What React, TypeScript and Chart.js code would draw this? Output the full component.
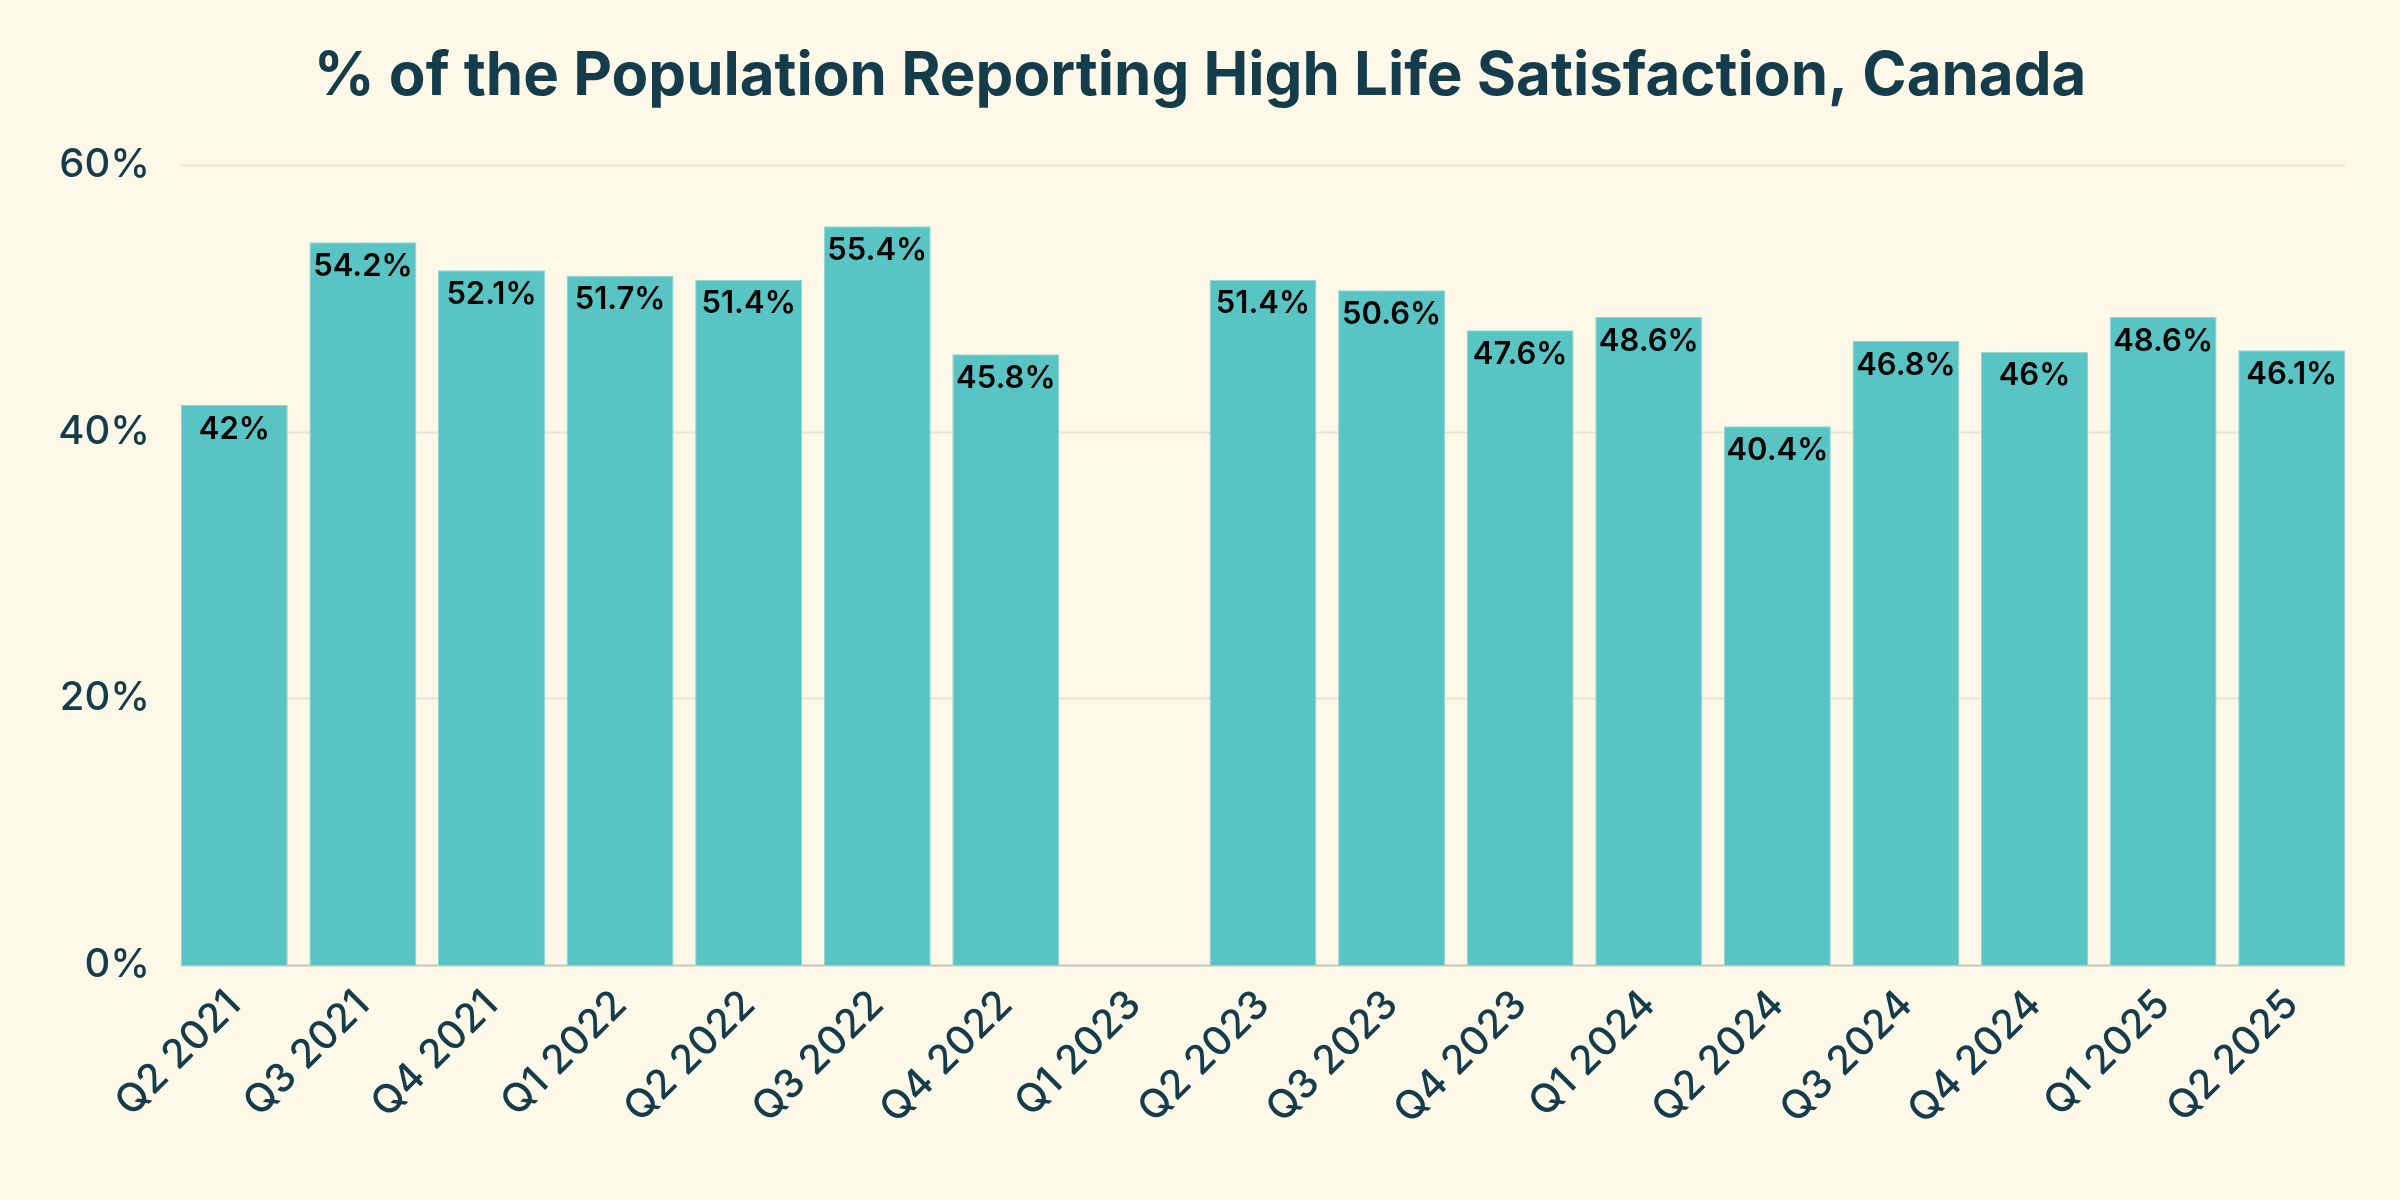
import { useEffect, useRef } from "react";
import { Chart, registerables } from "chart.js";
import type { Plugin } from "chart.js";

Chart.register(...registerables);

const quarters = [
  "Q2 2021",
  "Q3 2021",
  "Q4 2021",
  "Q1 2022",
  "Q2 2022",
  "Q3 2022",
  "Q4 2022",
  "Q1 2023",
  "Q2 2023",
  "Q3 2023",
  "Q4 2023",
  "Q1 2024",
  "Q2 2024",
  "Q3 2024",
  "Q4 2024",
  "Q1 2025",
  "Q2 2025",
];

const satisfaction: (number | null)[] = [
  42, 54.2, 52.1, 51.7, 51.4, 55.4, 45.8, null, 51.4, 50.6, 47.6, 48.6, 40.4,
  46.8, 46, 48.6, 46.1,
];

const yTicks = [0, 20, 40, 60];

const BG = "#fef8e9";
const BAR = "#58c4c4";
const INK = "#143c4a";
const FONT = "Inter, 'Noto Sans', sans-serif";

const bgPlugin: Plugin<"bar"> = {
  id: "bg",
  beforeDraw(chart) {
    const { ctx, width, height } = chart;
    ctx.save();
    ctx.fillStyle = BG;
    ctx.fillRect(0, 0, width, height);
    ctx.restore();
  },
};

// horizontal grid lines that run from the first bar's left edge to the last bar's right edge
const barGrid: Plugin<"bar"> = {
  id: "barGrid",
  beforeDatasetsDraw(chart) {
    const { ctx } = chart;
    const bars = chart.getDatasetMeta(0).data;
    if (!bars.length) return;
    const first = bars[0].getProps(["x", "width"], true) as any;
    const last = bars[bars.length - 1].getProps(["x", "width"], true) as any;
    const x1 = first.x - first.width / 2;
    const x2 = last.x + last.width / 2;
    const y = chart.scales.y;
    ctx.save();
    yTicks.forEach((t) => {
      const py = Math.round(y.getPixelForValue(t)) + 0.5;
      ctx.strokeStyle = t === 0 ? "#c4c4bc" : "#e8e4d4";
      ctx.lineWidth = 2;
      ctx.beginPath();
      ctx.moveTo(x1, py);
      ctx.lineTo(x2, py);
      ctx.stroke();
    });
    ctx.restore();
  },
};

const valueLabels: Plugin<"bar"> = {
  id: "valueLabels",
  afterDatasetsDraw(chart) {
    const { ctx } = chart;
    const meta = chart.getDatasetMeta(0);
    ctx.save();
    ctx.font = `600 31px ${FONT}`;
    ctx.fillStyle = "#000000";
    ctx.textAlign = "center";
    ctx.textBaseline = "top";
    meta.data.forEach((bar, i) => {
      const v = satisfaction[i];
      if (v === null) return;
      ctx.fillText(`${v}%`, bar.x, bar.y + 9);
    });
    ctx.restore();
  },
};

export default function App() {
  const canvasRef = useRef<HTMLCanvasElement>(null);
  const chartRef = useRef<Chart | null>(null);

  useEffect(() => {
    document.body.style.margin = "0";
    document.body.style.background = BG;
    if (!canvasRef.current) return;
    if (chartRef.current) chartRef.current.destroy();

    chartRef.current = new Chart(canvasRef.current, {
      type: "bar",
      data: {
        labels: quarters,
        datasets: [
          {
            label: "High life satisfaction",
            data: satisfaction,
            backgroundColor: BAR,
            borderColor: "#8fd6d2",
            borderWidth: 1,
            categoryPercentage: 0.832,
            barPercentage: 1,
          },
        ],
      },
      options: {
        responsive: true,
        maintainAspectRatio: false,
        animation: false,
        layout: {
          padding: { left: 44, right: 44, top: 20, bottom: 0 },
        },
        plugins: {
          legend: { display: false },
          tooltip: { enabled: false },
          title: {
            display: true,
            text: "% of the Population Reporting High Life Satisfaction, Canada",
            color: INK,
            font: { family: FONT, size: 60, weight: "bold" },
            padding: { top: 21, bottom: 52 },
          },
        },
        scales: {
          x: {
            grid: { display: false, drawTicks: false },
            border: { display: false },
            ticks: {
              color: INK,
              font: { family: FONT, size: 40, weight: 500 },
              maxRotation: 45,
              minRotation: 45,
              autoSkip: false,
              padding: 16,
            },
            afterFit: (scale) => {
              scale.height = 235;
            },
          },
          y: {
            min: 0,
            max: 60,
            afterBuildTicks: (scale) => {
              scale.ticks = yTicks.map((value) => ({ value }));
            },
            grid: { display: false, drawTicks: false },
            border: { display: false },
            ticks: {
              color: INK,
              font: { family: FONT, size: 40, weight: 500 },
              padding: 20,
              callback: (value) => `${value}%`,
            },
            afterFit: (scale) => {
              scale.width = 126;
            },
          },
        },
      },
      plugins: [bgPlugin, barGrid, valueLabels],
    });

    return () => {
      if (chartRef.current) {
        chartRef.current.destroy();
        chartRef.current = null;
      }
    };
  }, []);

  return (
    <div style={{ width: 2400, height: 1200, background: BG }}>
      <canvas ref={canvasRef}></canvas>
    </div>
  );
}
